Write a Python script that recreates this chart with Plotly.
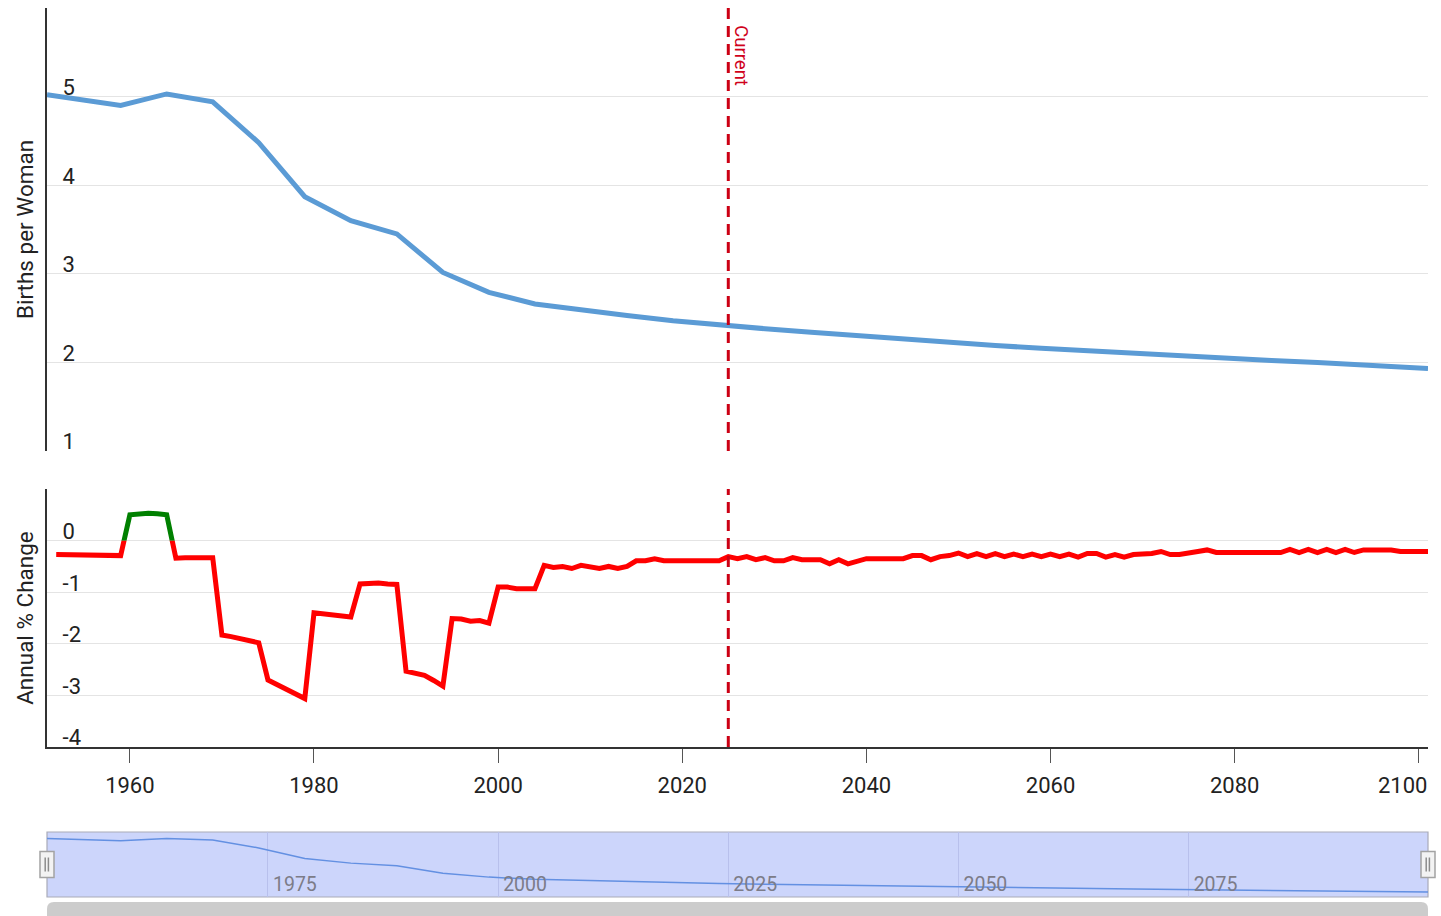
import plotly.graph_objects as go

# ---------------- data ----------------
tfr_years = [1951, 1959, 1964, 1969, 1974, 1979, 1984, 1989, 1994, 1999, 2004,
             2009, 2014, 2019, 2024, 2029, 2034, 2039, 2044, 2049, 2054, 2059,
             2064, 2069, 2074, 2079, 2084, 2089, 2094, 2099, 2101]
tfr_values = [5.02, 4.90, 5.03, 4.94, 4.48, 3.87, 3.60, 3.45, 3.015, 2.79, 2.66,
              2.59, 2.53, 2.47, 2.42, 2.38, 2.34, 2.30, 2.26, 2.22, 2.19, 2.16,
              2.13, 2.10, 2.07, 2.05, 2.02, 2.00, 1.97, 1.945, 1.93]

chg_years = list(range(1952, 2102))
chg_values = [
    -0.27, -0.27, -0.27, -0.27, -0.27, -0.28, -0.28, -0.29,          # 1952-1959
    0.50, 0.52, 0.53, 0.52, 0.50,                                    # 1960-1964
    -0.34, -0.33, -0.32, -0.33, -0.33,                               # 1965-1969
    -1.83, -1.86, -1.90, -1.94, -1.98,                               # 1970-1974
    -2.70, -2.79, -2.88, -2.97, -3.06,                               # 1975-1979
    -1.40, -1.42, -1.46, -1.46, -1.48,                               # 1980-1984
    -0.84, -0.83, -0.82, -0.84, -0.85,                               # 1985-1989
    -2.53, -2.58, -2.61, -2.71, -2.82,                               # 1990-1994
    -1.51, -1.52, -1.56, -1.55, -1.60,                               # 1995-1999
    -0.90, -0.90, -0.93, -0.93, -0.93,                               # 2000-2004
    -0.48, -0.52, -0.50, -0.54, -0.48, -0.50, -0.54, -0.50, -0.54, -0.50,  # 2005-2014
    -0.39, -0.39, -0.35, -0.39, -0.39, -0.39, -0.39, -0.39, -0.39, -0.39,  # 2015-2024
    -0.31, -0.35, -0.31, -0.37, -0.33, -0.39, -0.39, -0.33, -0.37, -0.37,  # 2025-2034
    -0.37, -0.45, -0.37, -0.45, -0.40, -0.35, -0.35, -0.35, -0.35, -0.35,  # 2035-2044
    -0.29, -0.29, -0.37, -0.31, -0.29, -0.24, -0.31, -0.25, -0.31, -0.25,  # 2045-2054
    -0.31, -0.26, -0.31, -0.26, -0.31, -0.26, -0.31, -0.26, -0.32, -0.25,  # 2055-2064
    -0.25, -0.32, -0.27, -0.32, -0.27, -0.27, -0.25, -0.21, -0.27, -0.27,  # 2065-2074
    -0.23, -0.21, -0.18, -0.23, -0.23, -0.23, -0.23, -0.23, -0.23, -0.23,  # 2075-2084
    -0.23, -0.17, -0.23, -0.17, -0.23, -0.17, -0.23, -0.17, -0.23, -0.18,  # 2085-2094
    -0.18, -0.18, -0.18, -0.21, -0.21, -0.21, -0.21,                       # 2095-2101
]

x_ticks = [1960, 1980, 2000, 2020, 2040, 2060, 2080, 2100]
x_tick_labels = ["1960", "1980", "2000", "2020", "2040", "2060", "2080", "2100"]
tfr_ticks = [1, 2, 3, 4, 5, 6]
tfr_tick_labels = ["1", "2", "3", "4", "5", ""]
chg_ticks = [-4, -3, -2, -1, 0, 1]
chg_tick_labels = ["-4", "-3", "-2", "-1", "0", ""]
nav_ticks = [1975, 2000, 2025, 2050, 2075]
nav_tick_labels = ["1975", "2000", "2025", "2050", "2075"]
current_year = 2025
current_label = "Current"
tfr_title = "Births per Woman"
chg_title = "Annual % Change"

# ---------------- layout constants ----------------
W, H = 1441, 916
X_RANGE = [1951, 2101]
TOP_DOM = [0.5017, 1.0]
LOW_DOM = [0.1687, 0.4589]
NAV_DOM = [0.0, 0.0731]
CHG_RANGE = [-4, 1]
ZERO_FR = LOW_DOM[0] + (0 - CHG_RANGE[0]) / (CHG_RANGE[1] - CHG_RANGE[0]) * (LOW_DOM[1] - LOW_DOM[0])

FONT = "Roboto"
BLUE = "#5b9bd5"
RED = "#ff0000"
GREEN = "#008000"
DASH_RED = "#cc0014"
GRID = "#e4e4e4"
AXIS = "#333333"
TXT = "#222222"

# the last label is drawn flush with the right edge (like the original), see annotation below
x_tick_text = x_tick_labels[:-1] + [""]

fig = go.Figure()

fig.add_trace(go.Scatter(x=tfr_years, y=tfr_values, mode="lines",
                         line=dict(color=BLUE, width=5), xaxis="x", yaxis="y",
                         hoverinfo="skip", showlegend=False))
# invisible carrier so the x2/y2 subplot (grid, axes) exists
fig.add_trace(go.Scatter(x=chg_years, y=chg_values, mode="lines",
                         line=dict(color="rgba(0,0,0,0)", width=0), xaxis="x2", yaxis="y2",
                         hoverinfo="skip", showlegend=False))
# negative part (clipped to the region below zero)
fig.add_trace(go.Scatter(x=chg_years, y=chg_values, mode="lines",
                         line=dict(color=RED, width=5), xaxis="x2", yaxis="y5",
                         hoverinfo="skip", showlegend=False))
# positive part (clipped to the region above zero)
fig.add_trace(go.Scatter(x=chg_years, y=chg_values, mode="lines",
                         line=dict(color=GREEN, width=5), xaxis="x2", yaxis="y4",
                         hoverinfo="skip", showlegend=False))
# navigator
fig.add_trace(go.Scatter(x=tfr_years, y=tfr_values, mode="lines",
                         line=dict(color="#6390e2", width=1.5), xaxis="x3", yaxis="y3",
                         hoverinfo="skip", showlegend=False))

tickfont = dict(family=FONT, size=22, color=TXT)
titlefont = dict(family=FONT, size=22.5, color=TXT)

fig.update_layout(
    width=W, height=H,
    margin=dict(l=47, r=13, t=8, b=19, pad=0, autoexpand=False),
    paper_bgcolor="white", plot_bgcolor="rgba(0,0,0,0)",
    font=dict(family=FONT, color=TXT),
    showlegend=False,
    xaxis=dict(domain=[0, 1], anchor="y", range=X_RANGE, showgrid=False,
               showticklabels=False, ticks="", showline=False, zeroline=False,
               automargin=False, fixedrange=True),
    yaxis=dict(domain=TOP_DOM, anchor="x", range=[1, 6], tickmode="array",
               tickvals=tfr_ticks, ticktext=tfr_tick_labels, showgrid=True,
               gridcolor=GRID, gridwidth=1, zeroline=False, showline=True,
               linecolor=AXIS, linewidth=2, ticks="",
               ticklabelposition="inside top", ticklabelstandoff=16,
               ticklabelshift=6, ticklabeloverflow="allow",
               tickfont=tickfont, automargin=False,
               title=dict(text=tfr_title, font=titlefont, standoff=23),
               fixedrange=True),
    xaxis2=dict(domain=[0, 1], anchor="y2", range=X_RANGE, tickmode="array",
                tickvals=x_ticks, ticktext=x_tick_text, showgrid=False,
                ticks="outside", ticklen=14, tickcolor="#555555", tickwidth=1,
                showline=True, linecolor=AXIS, linewidth=1.5, zeroline=False,
                ticklabelstandoff=4, automargin=False,
                tickfont=tickfont, fixedrange=True),
    yaxis2=dict(domain=LOW_DOM, anchor="x2", range=CHG_RANGE, tickmode="array",
                tickvals=chg_ticks, ticktext=chg_tick_labels, showgrid=True,
                gridcolor=GRID, gridwidth=1, zeroline=False, showline=True,
                linecolor=AXIS, linewidth=2, ticks="",
                ticklabelposition="inside top", ticklabelstandoff=16,
                ticklabelshift=6, ticklabeloverflow="allow",
                tickfont=tickfont, automargin=False,
                title=dict(text=chg_title, font=titlefont, standoff=23),
                fixedrange=True),
    yaxis4=dict(domain=[ZERO_FR, LOW_DOM[1]], anchor="x2", range=[0, CHG_RANGE[1]],
                visible=False, automargin=False, fixedrange=True),
    yaxis5=dict(domain=[LOW_DOM[0], ZERO_FR], anchor="x2", range=[CHG_RANGE[0], 0],
                visible=False, automargin=False, fixedrange=True),
    xaxis3=dict(domain=[0, 1], anchor="y3", range=X_RANGE, tickmode="array",
                tickvals=nav_ticks, ticktext=nav_tick_labels, showgrid=True,
                gridcolor="#b8c0ec", gridwidth=1, ticks="", showline=False,
                zeroline=False, ticklabelposition="inside right",
                ticklabelshift=5, ticklabelstandoff=-4, automargin=False,
                tickfont=dict(family=FONT, size=19.5, color="#7c7c88"),
                fixedrange=True),
    yaxis3=dict(domain=NAV_DOM, anchor="x3", range=[1.64, 5.40], visible=False,
                automargin=False, fixedrange=True),
)

shapes = []
# "Current" dashed markers
for xr, yr in (("x", "y domain"), ("x2", "y2 domain")):
    shapes.append(dict(type="line", xref=xr, yref=yr, x0=current_year, x1=current_year,
                       y0=0, y1=1, layer="above",
                       line=dict(color=DASH_RED, width=3, dash="11px,7px")))
# navigator background
shapes.append(dict(type="rect", xref="x3 domain", yref="y3 domain", x0=0, x1=1, y0=0, y1=1,
                   fillcolor="#ccd5fb", line=dict(color="#a9abb8", width=1.2), layer="below"))
# navigator handles
for xa in (0, 1):
    shapes.append(dict(type="rect", xref="x3 domain", xsizemode="pixel", xanchor=xa,
                       x0=-7, x1=7, yref="y3 domain", ysizemode="pixel", yanchor=0.5,
                       y0=-13, y1=13, fillcolor="#f3f3f3",
                       line=dict(color="#a3a3a3", width=1.5), layer="above"))
    for dx in (-1.8, 1.4):
        shapes.append(dict(type="line", xref="x3 domain", xsizemode="pixel", xanchor=xa,
                           x0=dx, x1=dx, yref="y3 domain", ysizemode="pixel", yanchor=0.5,
                           y0=-7, y1=7, line=dict(color="#8c8c8c", width=1.5),
                           layer="above"))
# scrollbar (rounded)
pw, ph = W - 47 - 13, H - 8 - 19
rx, ry = 7 / pw, 7 / ph
yt, yb = -5 / ph, -40 / ph
path = (f"M {rx},{yt} L {1 - rx},{yt} Q 1,{yt} 1,{yt - ry} L 1,{yb} L 0,{yb} "
        f"L 0,{yt - ry} Q 0,{yt} {rx},{yt} Z")
shapes.append(dict(type="path", xref="paper", yref="paper", path=path,
                   fillcolor="#cccccc", line=dict(width=0), layer="above"))
fig.update_layout(shapes=shapes)

fig.add_annotation(x=current_year, xref="x", y=1, yref="y domain", text=current_label,
                   showarrow=False, textangle=90, xanchor="center", yanchor="top",
                   xshift=13, yshift=-15,
                   font=dict(family=FONT, size=18.5, color="#d0021b"))

# last x tick label, right-aligned to the plot edge
fig.add_annotation(x=1, xref="x2 domain", y=0, yref="y2 domain", text=x_tick_labels[-1],
                   showarrow=False, xanchor="right", yanchor="middle",
                   xshift=1, yshift=-38, font=tickfont)

fig.write_html("out.html", config={"displayModeBar": False},
               post_script="document.body.style.margin='0';document.body.style.overflow='hidden';")
